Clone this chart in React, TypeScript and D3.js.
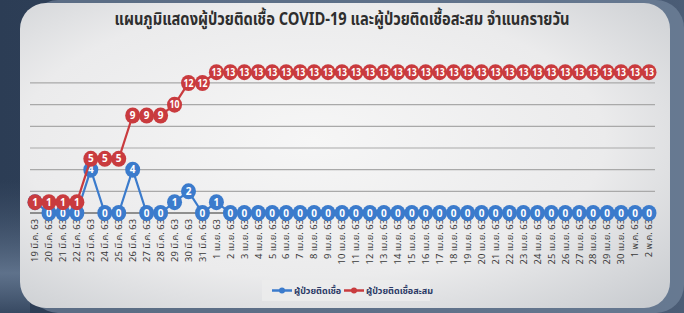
import React from "react";
import * as d3 from "d3";

const dates = [
  "19 มี.ค. 63", "20 มี.ค. 63", "21 มี.ค. 63", "22 มี.ค. 63", "23 มี.ค. 63", "24 มี.ค. 63",
  "25 มี.ค. 63", "26 มี.ค. 63", "27 มี.ค. 63", "28 มี.ค. 63", "29 มี.ค. 63", "30 มี.ค. 63",
  "31 มี.ค. 63", "1 เม.ย. 63", "2 เม.ย. 63", "3 เม.ย. 63", "4 เม.ย. 63", "5 เม.ย. 63",
  "6 เม.ย. 63", "7 เม.ย. 63", "8 เม.ย. 63", "9 เม.ย. 63", "10 เม.ย. 63", "11 เม.ย. 63",
  "12 เม.ย. 63", "13 เม.ย. 63", "14 เม.ย. 63", "15 เม.ย. 63", "16 เม.ย. 63", "17 เม.ย. 63",
  "18 เม.ย. 63", "19 เม.ย. 63", "20 เม.ย. 63", "21 เม.ย. 63", "22 เม.ย. 63", "23 เม.ย. 63",
  "24 เม.ย. 63", "25 เม.ย. 63", "26 เม.ย. 63", "27 เม.ย. 63", "28 เม.ย. 63", "29 เม.ย. 63",
  "30 เม.ย. 63", "1 พ.ค. 63", "2 พ.ค. 63",
];

const daily = [
  1, 0, 0, 0, 4, 0, 0, 4, 0, 0, 1, 2, 0, 1, 0,
  0, 0, 0, 0, 0, 0, 0, 0, 0, 0, 0, 0, 0, 0, 0,
  0, 0, 0, 0, 0, 0, 0, 0, 0, 0, 0, 0, 0, 0, 0,
];

const cumulative = [
  1, 1, 1, 1, 5, 5, 5, 9, 9, 9, 10, 12, 12, 13, 13,
  13, 13, 13, 13, 13, 13, 13, 13, 13, 13, 13, 13, 13, 13, 13,
  13, 13, 13, 13, 13, 13, 13, 13, 13, 13, 13, 13, 13, 13, 13,
];

const gridValues = [2, 4, 6, 8, 10, 12];

const title = "แผนภูมิแสดงผู้ป่วยติดเชื้อ COVID-19 และผู้ป่วยติดเชื้อสะสม จำแนกรายวัน";
const seriesNames = ["ผู้ป่วยติดเชื้อ", "ผู้ป่วยติดเชื้อสะสม"];

const W = 684;
const H = 313;
const BLUE = "#3b7bcc";
const RED = "#c93b3e";
const FONT = "'Noto Sans Thai', 'Loma', 'Tahoma', 'DejaVu Sans Condensed', 'Liberation Sans Narrow', sans-serif";

export default function App() {
  const x = d3.scalePoint<string>().domain(dates).range([35, 649]);
  const y = d3.scaleLinear().domain([0, 14]).range([213, 61.3]);

  const line = d3
    .line<number>()
    .x((_, i) => x(dates[i]) as number)
    .y((d) => y(d));

  const series = [
    { name: seriesNames[0], values: daily, color: BLUE },
    { name: seriesNames[1], values: cumulative, color: RED },
  ];

  return (
    <svg
      width={W}
      height={H}
      style={{ position: "absolute", left: 0, top: 0, display: "block" }}
      fontFamily={FONT}
    >
      <defs>
        <linearGradient id="bg" x1="0" y1="0" x2="1" y2="0">
          <stop offset="0" stopColor="#2c3d55" />
          <stop offset="0.5" stopColor="#34465f" />
          <stop offset="1" stopColor="#4b5d76" />
        </linearGradient>
        <radialGradient id="card" cx="0.45" cy="0.45" r="0.75">
          <stop offset="0" stopColor="#f6f6f6" />
          <stop offset="0.6" stopColor="#ebebec" />
          <stop offset="1" stopColor="#c9ccd0" />
        </radialGradient>
        <linearGradient id="leftglow" x1="0" y1="0" x2="0" y2="1">
          <stop offset="0" stopColor="#50637d" stopOpacity="0" />
          <stop offset="0.7" stopColor="#7488a2" stopOpacity="0.7" />
          <stop offset="1" stopColor="#3a4c65" stopOpacity="0.8" />
        </linearGradient>
      </defs>
      <rect x={0} y={0} width={W} height={H} fill="url(#bg)" />
      <rect x={0} y={180} width={30} height={133} fill="url(#leftglow)" />
      <rect x={30} y={0} width={654} height={313} rx={28} fill="#7a8ca4" opacity={0.6} />
      <rect x={20} y={3} width={650} height={305} rx={26} fill="url(#card)" />

      <text
        x={342}
        y={25}
        textAnchor="middle"
        fontSize={17}
        fontWeight="bold"
        fill="#2e2e2e"
        textLength={455}
        lengthAdjust="spacingAndGlyphs"
      >
        {title}
      </text>

      {gridValues.map((g) => (
        <line key={g} x1={30} x2={655} y1={y(g)} y2={y(g)} stroke="#a9a9a9" strokeWidth={1.2} />
      ))}
      <line x1={30} x2={655} y1={y(0)} y2={y(0)} stroke="#6f6f6f" strokeWidth={1.5} />

      {dates.map((d) => (
        <text
          key={d}
          transform={`translate(${(x(d) as number) + 3.3},219) rotate(-90)`}
          textAnchor="end"
          fontSize={9.4}
          fill="#3a3a3a"
        >
          {d}
        </text>
      ))}

      {series.map((s) => (
        <g key={s.name}>
          <path d={line(s.values) || ""} fill="none" stroke={s.color} strokeWidth={2.2} />
          {s.values.map((v, i) => (
            <g key={i} transform={`translate(${x(dates[i])},${y(v)})`}>
              <ellipse rx={7.5} ry={8} fill={s.color} />
              <text
                y={3.6}
                textAnchor="middle"
                fontSize={10}
                fontWeight="bold"
                fill="#ffffff"
                textLength={String(v).length > 1 ? 10 : undefined}
                lengthAdjust="spacingAndGlyphs"
              >
                {v}
              </text>
            </g>
          ))}
        </g>
      ))}

      <rect x={262} y={280} width={168} height={21} fill="#ececec" opacity={0.8} />
      {series.map((s, i) => {
        const lx = i === 0 ? 272 : 344;
        return (
          <g key={s.name}>
            <line x1={lx} x2={lx + 20} y1={290.5} y2={290.5} stroke={s.color} strokeWidth={2.5} />
            <circle cx={lx + 10} cy={290.5} r={3} fill={s.color} />
            <text x={lx + 22} y={294} fontSize={9} fill="#2b3a66" fontWeight="bold">
              {s.name}
            </text>
          </g>
        );
      })}
    </svg>
  );
}
